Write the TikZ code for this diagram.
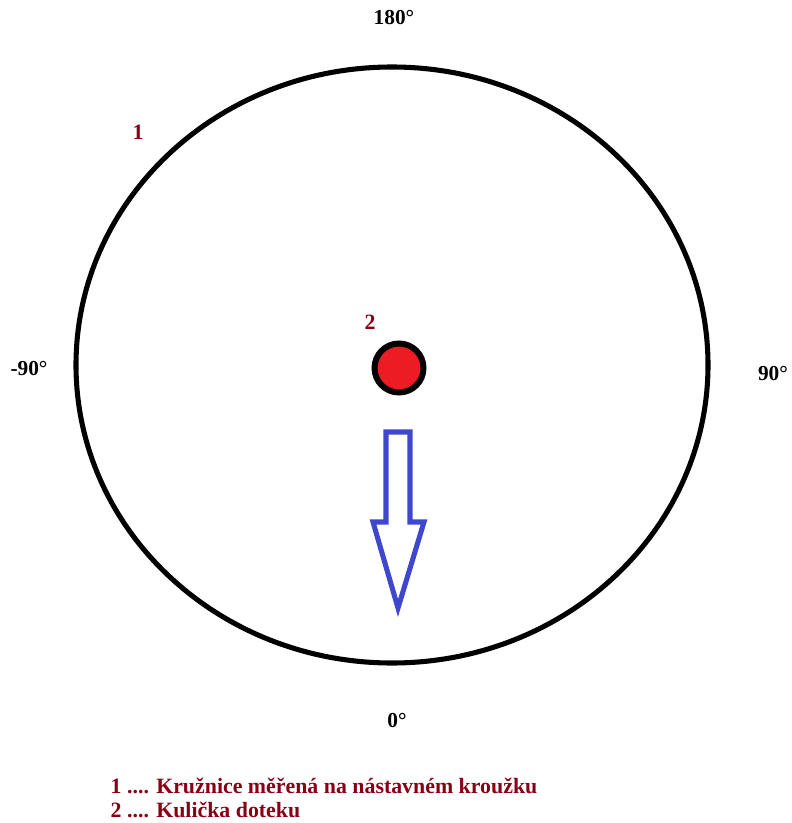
\documentclass[tikz,border=0pt]{standalone}
\usepackage{fontspec}
\setmainfont{Liberation Serif}
\definecolor{darkred}{RGB}{136,0,21}
\definecolor{ballred}{RGB}{237,28,36}
\definecolor{arrowblue}{RGB}{63,72,204}
\begin{document}
\begin{tikzpicture}[x=0.75pt,y=-0.75pt,
  angle/.style={font=\fontsize{16}{19}\selectfont\bfseries},
  mark label/.style={font=\fontsize{16.4}{19}\selectfont\bfseries,text=darkred}]
  \useasboundingbox (0,0) rectangle (791,823);

  % Measured circle on the ring
  \draw[line width=3.8pt] (392,365) ellipse [x radius=316, y radius=298];

  % Angle labels
  \node[angle] (a180) at (394,18) {180°};
  \node[angle] (am90) at (29,369) {-90°};
  \node[angle] (a90) at (773,374) {90°};
  \node[angle] (a0) at (397,721) {0°};

  % Contact ball
  \draw[line width=4.5pt,fill=ballred] (399,368) circle [radius=24.5];

  % Direction arrow
  \draw[line width=3.8pt,arrowblue,line join=miter]
    (386,432) -- (410,432) -- (410,522) -- (424,522) -- (398,608)
    -- (373,522) -- (386,522) -- cycle;

  % Markers
  \node[mark label] (m1) at (138,132) {1};
  \node[mark label] (m2) at (370,322) {2};

  % Legend
  \node[mark label,anchor=west] (leg1) at (106,786) {1 .... Kružnice měřená na nástavném kroužku};
  \node[mark label,anchor=west] (leg2) at (106,810) {2 .... Kulička doteku};
\end{tikzpicture}
\end{document}
